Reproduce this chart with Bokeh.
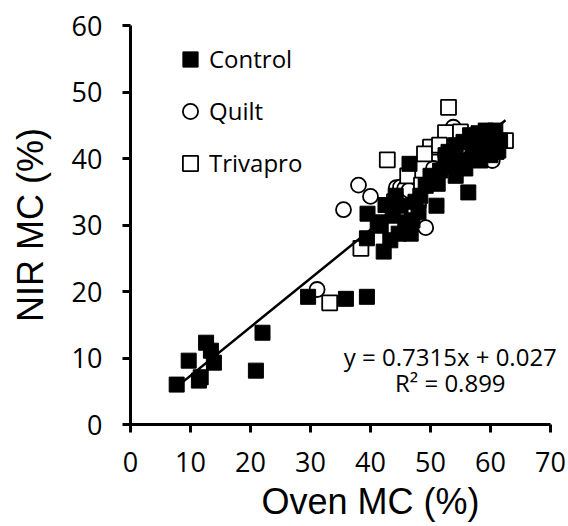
from bokeh.plotting import figure
from bokeh.models import Legend, LegendItem, Label, FixedTicker, Title
from bokeh.embed import file_html
from bokeh.resources import INLINE

# ---- data ----
control_x = [7.7, 9.7, 11.7, 12.6, 13.4, 13.9, 11.4, 20.9, 22.0,
             29.6, 35.9, 39.4,
             39.5, 39.4, 42.2, 41.2, 43.7, 44.7, 45.8, 46.7, 47.0, 48.0,
             46.5, 51.0, 56.3, 51.2, 48.3, 49.2, 50.0, 51.6, 53.3, 55.0,
             55.8, 57.5, 58.3, 60.0, 59.2, 60.8, 61.6, 61.3, 60.0, 58.3,
             56.6, 54.2, 52.5, 54.2, 45.0, 43.3, 41.7, 44.2, 42.5, 47.5,
             53.0, 57.0, 59.0, 61.0, 58.0, 55.5]
control_y = [6.0, 9.6, 7.1, 12.3, 11.1, 9.3, 6.6, 8.1, 13.8,
             19.2, 18.9, 19.2,
             31.7, 28.0, 26.0, 30.4, 31.4, 28.7, 30.4, 28.7, 30.7, 31.9,
             39.2, 32.9, 34.9, 36.2, 34.4, 35.9, 37.4, 38.2, 38.9, 39.7,
             38.5, 40.5, 42.0, 43.5, 44.2, 44.2, 42.7, 41.2, 40.5, 39.7,
             43.5, 42.0, 40.5, 37.4, 32.9, 27.7, 29.9, 34.4, 33.0, 33.5,
             41.0, 41.5, 42.5, 41.0, 43.8, 42.5]

quilt_x = [31.1, 35.5, 38.0, 40.0, 49.2, 44.3, 45.0, 45.7, 46.4, 53.8,
           60.3, 50.5, 52.5, 57.0, 59.0, 61.5, 48.0]
quilt_y = [20.3, 32.3, 36.0, 34.3, 29.6, 35.6, 35.7, 35.5, 35.2, 44.7,
           39.7, 38.5, 40.5, 42.5, 43.0, 42.5, 33.0]

triv_x = [33.2, 38.4, 42.8, 53.0, 62.5, 47.0, 46.2, 48.5, 50.0, 52.5,
          49.0, 44.0, 55.0, 57.5, 51.5]
triv_y = [18.3, 26.5, 39.8, 47.7, 42.7, 32.6, 37.4, 36.0, 41.7, 43.9,
          40.7, 33.5, 44.0, 41.0, 42.0]

slope, intercept, r2 = 0.7315, 0.027, 0.899
x_ticks = [0, 10, 20, 30, 40, 50, 60, 70]
y_ticks = [0, 10, 20, 30, 40, 50, 60]

FONT = "Open Sans"
TITLE_FONT = "Arial"

# frame slightly wider than the 0-70 axis so the equation is not clipped
p = figure(width=568, height=526, x_range=(0, 70 * 430 / 420), y_range=(0, 60),
           output_backend="svg", toolbar_location=None,
           min_border_left=130, min_border_right=8,
           min_border_top=25, min_border_bottom=102)
p.outline_line_color = None
p.xgrid.grid_line_color = None
p.ygrid.grid_line_color = None
p.background_fill_color = "white"
p.border_fill_color = "white"

for ax in (p.xaxis[0], p.yaxis[0]):
    ax.axis_line_width = 3
    ax.axis_line_color = "black"
    ax.major_tick_line_width = 3
    ax.major_tick_line_color = "black"
    ax.major_tick_in = 0
    ax.major_tick_out = 8
    ax.minor_tick_line_color = None
    ax.major_label_text_font = FONT
    ax.major_label_text_font_size = "27px"
    ax.major_label_text_color = "black"

p.xaxis[0].ticker = FixedTicker(ticks=x_ticks)
p.yaxis[0].ticker = FixedTicker(ticks=y_ticks)
p.xaxis[0].bounds = (0, 70)
p.xaxis[0].major_label_standoff = 19
p.yaxis[0].major_label_standoff = 20

p.yaxis[0].axis_label = "NIR MC (%)"
p.yaxis[0].axis_label_text_font = TITLE_FONT
p.yaxis[0].axis_label_text_font_size = "36px"
p.yaxis[0].axis_label_text_font_style = "normal"
p.yaxis[0].axis_label_text_color = "black"
p.yaxis[0].axis_label_standoff = 18

# trendline across the data range
all_x = control_x + quilt_x + triv_x
lx = [min(all_x), max(all_x)]
ly = [slope * v + intercept for v in lx]

r_q = p.scatter(quilt_x, quilt_y, marker="circle", size=15,
                fill_color="white", line_color="black", line_width=1.8)
r_t = p.scatter(triv_x, triv_y, marker="square", size=15,
                fill_color="white", line_color="black", line_width=1.8)
r_c = p.scatter(control_x, control_y, marker="square", size=15,
                fill_color="black", line_color="black", line_width=1)
p.line(lx, ly, line_color="black", line_width=2.5)

legend = Legend(items=[LegendItem(label="Control", renderers=[r_c]),
                       LegendItem(label="Quilt", renderers=[r_q]),
                       LegendItem(label="Trivapro", renderers=[r_t])],
                location=(41, 242.5), orientation="vertical",
                glyph_width=38, glyph_height=38, label_height=38,
                spacing=14, padding=0, margin=0, label_standoff=0,
                border_line_color=None, background_fill_alpha=0,
                label_text_font=FONT, label_text_font_size="24px",
                label_text_color="black", label_text_baseline="middle")
p.add_layout(legend)

p.add_layout(Label(x=53.3, y=10.2, text="y = 0.7315x + 0.027",
                   text_align="center", text_baseline="middle",
                   text_font=FONT, text_font_size="24px", text_color="black"))
p.add_layout(Label(x=53.3, y=6.3, text="R\u00b2 = 0.899",
                   text_align="center", text_baseline="middle",
                   text_font=FONT, text_font_size="24px", text_color="black"))

# x-axis title, shifted right as in the reference
p.add_layout(Title(text="Oven MC (%)", align="left", offset=131, standoff=9,
                   text_line_height=0.6,
                   text_font=TITLE_FONT, text_font_size="36px",
                   text_font_style="normal", text_color="black"), "below")

open("out.html", "w").write(file_html(p, INLINE))
